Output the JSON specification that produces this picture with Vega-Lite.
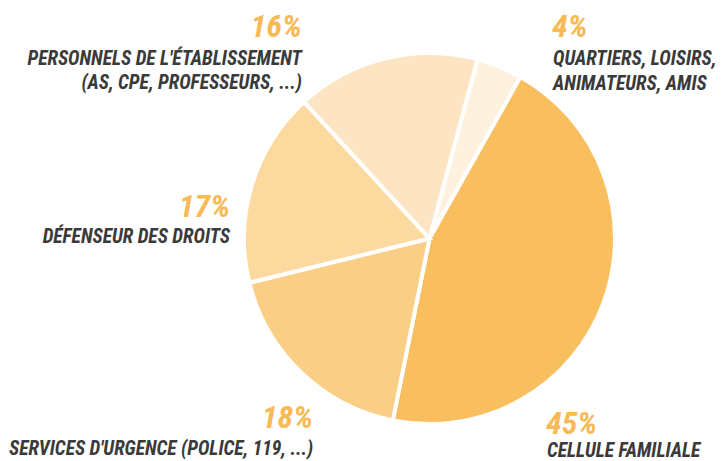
{
  "$schema": "https://vega.github.io/schema/vega-lite/v6.json",
  "width": 371,
  "height": 371,
  "autosize": {"type": "none"},
  "padding": {"left": 244, "top": 53, "right": 108, "bottom": 37},
  "background": "white",
  "config": {"view": {"stroke": null}, "text": {"font": "Roboto Condensed, DejaVu Sans Condensed, Arial Narrow, Roboto"}},
  "data": {
    "values": [
      {"key": "quartiers", "share": 0.04, "order": 1, "label": "QUARTIERS, LOISIRS,\nANIMATEURS, AMIS"},
      {"key": "famille", "share": 0.45, "order": 2, "label": "CELLULE FAMILIALE"},
      {"key": "urgence", "share": 0.18, "order": 3, "label": "SERVICES D'URGENCE (POLICE, 119, ...)"},
      {"key": "defenseur", "share": 0.17, "order": 4, "label": "DÉFENSEUR DES DROITS"},
      {"key": "personnels", "share": 0.16, "order": 5, "label": "PERSONNELS DE L'ÉTABLISSEMENT\n(AS, CPE, PROFESSEURS, ...)"}
    ]
  },
  "transform": [
    {"stack": "share", "groupby": [], "sort": [{"field": "order"}], "as": ["s0", "s1"]},
    {"calculate": "(datum.s0 + datum.s1) / 2", "as": "mid"}
  ],
  "layer": [
    {
      "mark": {"type": "arc", "stroke": "white", "strokeWidth": 4},
      "encoding": {
        "theta": {"field": "s0", "type": "quantitative", "scale": {"domain": [0, 1], "range": [0.2618, 6.545]}},
        "theta2": {"field": "s1"},
        "color": {
          "field": "key", "type": "nominal", "legend": null,
          "scale": {
            "domain": ["quartiers", "famille", "urgence", "defenseur", "personnels"],
            "range": ["#FEF1DD", "#F9BF5F", "#FBCE86", "#FCD99E", "#FDE5C3"]
          }
        }
      }
    },
    {
      "transform": [{"filter": "datum.key === 'quartiers'"}],
      "mark": {"type": "text", "radius": 200, "align": "left", "baseline": "alphabetic", "dx": 47, "dy": -16, "fontWeight": "bold", "fontStyle": "italic", "fontSize": 32, "color": "#F9B954"},
      "encoding": {"theta": {"field": "mid", "type": "quantitative"}, "text": {"field": "share", "type": "quantitative", "format": ".0%"}}
    },
    {
      "transform": [{"filter": "datum.key === 'quartiers'"}],
      "mark": {"type": "text", "radius": 200, "align": "left", "baseline": "alphabetic", "dx": 48, "dy": 12, "lineBreak": "\n", "lineHeight": 25, "fontWeight": "bold", "fontStyle": "italic", "fontSize": 19.5, "color": "#3A3A3A"},
      "encoding": {"theta": {"field": "mid", "type": "quantitative"}, "text": {"field": "label", "type": "nominal"}}
    },
    {
      "transform": [{"filter": "datum.key === 'famille'"}],
      "mark": {"type": "text", "radius": 200, "align": "left", "baseline": "alphabetic", "dx": -71, "dy": 126, "fontWeight": "bold", "fontStyle": "italic", "fontSize": 32, "color": "#F9B954"},
      "encoding": {"theta": {"field": "mid", "type": "quantitative"}, "text": {"field": "share", "type": "quantitative", "format": ".0%"}}
    },
    {
      "transform": [{"filter": "datum.key === 'famille'"}],
      "mark": {"type": "text", "radius": 200, "align": "left", "baseline": "alphabetic", "dx": -70, "dy": 149, "fontWeight": "bold", "fontStyle": "italic", "fontSize": 19.5, "color": "#3A3A3A"},
      "encoding": {"theta": {"field": "mid", "type": "quantitative"}, "text": {"field": "label", "type": "nominal"}}
    },
    {
      "transform": [{"filter": "datum.key === 'urgence'"}],
      "mark": {"type": "text", "radius": 200, "align": "right", "baseline": "alphabetic", "dx": 22, "dy": 45, "fontWeight": "bold", "fontStyle": "italic", "fontSize": 32, "color": "#F9B954"},
      "encoding": {"theta": {"field": "mid", "type": "quantitative"}, "text": {"field": "share", "type": "quantitative", "format": ".0%"}}
    },
    {
      "transform": [{"filter": "datum.key === 'urgence'"}],
      "mark": {"type": "text", "radius": 200, "align": "right", "baseline": "alphabetic", "dx": 22, "dy": 72, "fontWeight": "bold", "fontStyle": "italic", "fontSize": 19.5, "color": "#3A3A3A"},
      "encoding": {"theta": {"field": "mid", "type": "quantitative"}, "text": {"field": "label", "type": "nominal"}}
    },
    {
      "transform": [{"filter": "datum.key === 'defenseur'"}],
      "mark": {"type": "text", "radius": 200, "align": "right", "baseline": "alphabetic", "dx": -8, "dy": 36, "fontWeight": "bold", "fontStyle": "italic", "fontSize": 32, "color": "#F9B954"},
      "encoding": {"theta": {"field": "mid", "type": "quantitative"}, "text": {"field": "share", "type": "quantitative", "format": ".0%"}}
    },
    {
      "transform": [{"filter": "datum.key === 'defenseur'"}],
      "mark": {"type": "text", "radius": 200, "align": "right", "baseline": "alphabetic", "dx": -8, "dy": 62, "fontWeight": "bold", "fontStyle": "italic", "fontSize": 19.5, "color": "#3A3A3A"},
      "encoding": {"theta": {"field": "mid", "type": "quantitative"}, "text": {"field": "label", "type": "nominal"}}
    },
    {
      "transform": [{"filter": "datum.key === 'personnels'"}],
      "mark": {"type": "text", "radius": 200, "align": "right", "baseline": "alphabetic", "dx": -80, "dy": -7, "fontWeight": "bold", "fontStyle": "italic", "fontSize": 32, "color": "#F9B954"},
      "encoding": {"theta": {"field": "mid", "type": "quantitative"}, "text": {"field": "share", "type": "quantitative", "format": ".0%"}}
    },
    {
      "transform": [{"filter": "datum.key === 'personnels'"}],
      "mark": {"type": "text", "radius": 200, "align": "right", "baseline": "alphabetic", "dx": -80, "dy": 21, "lineBreak": "\n", "lineHeight": 24, "fontWeight": "bold", "fontStyle": "italic", "fontSize": 19.5, "color": "#3A3A3A"},
      "encoding": {"theta": {"field": "mid", "type": "quantitative"}, "text": {"field": "label", "type": "nominal"}}
    }
  ]
}
